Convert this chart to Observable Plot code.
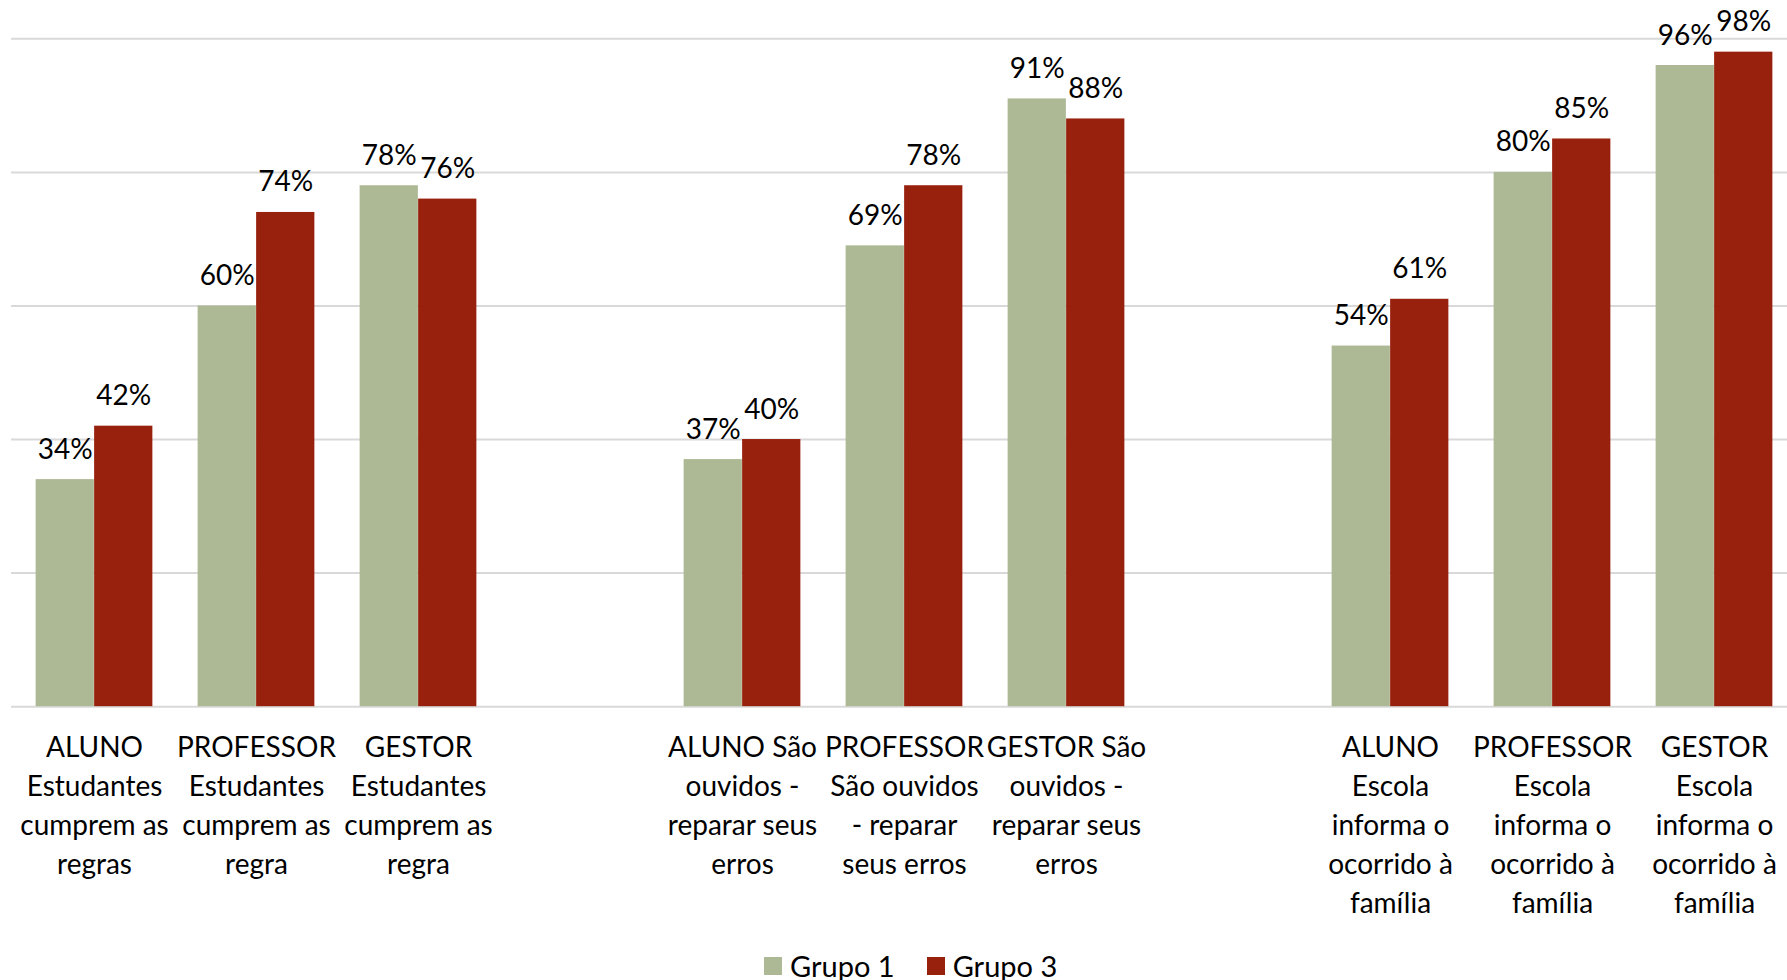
<!DOCTYPE html>
<html>
<head>
<meta charset="utf-8">
<script src="https://cdn.jsdelivr.net/npm/d3@7"></script>
<script src="https://cdn.jsdelivr.net/npm/@observablehq/plot@0.6"></script>
<style>
  html, body { margin: 0; padding: 0; background: #fff; overflow: hidden; }
  body { font-family: Lato, "Open Sans", sans-serif; width: 1787px; height: 980px; position: relative; }
  #chart svg { display: block; }
  .legend { position: absolute; top: 951px; left: 764px; display: flex; align-items: center; font-size: 29px; line-height: 30px; color: #000; }
  .legend .item { display: flex; align-items: center; margin-right: 32px; }
  .legend .sw { width: 18px; height: 18px; margin-right: 8px; display: inline-block; }
</style>
</head>
<body>
<div id="chart"></div>
<div class="legend" id="legend"></div>
<script>
// ---- data ----
const categories = [
  "ALUNO Estudantes cumprem as regras",
  "PROFESSOR Estudantes cumprem as regra",
  "GESTOR Estudantes cumprem as regra",
  "gap1", "gap2",
  "ALUNO São ouvidos - reparar seus erros",
  "PROFESSOR São ouvidos - reparar seus erros",
  "GESTOR São ouvidos - reparar seus erros",
  "gap3", "gap4",
  "ALUNO Escola informa o ocorrido à família",
  "PROFESSOR Escola informa o ocorrido à família",
  "GESTOR Escola informa o ocorrido à família"
];
const tickLabels = [
  "ALUNO\nEstudantes\ncumprem as\nregras",
  "PROFESSOR\nEstudantes\ncumprem as\nregra",
  "GESTOR\nEstudantes\ncumprem as\nregra",
  "", "",
  "ALUNO São\nouvidos -\nreparar seus\nerros",
  "PROFESSOR\nSão ouvidos\n- reparar\nseus erros",
  "GESTOR São\nouvidos -\nreparar seus\nerros",
  "", "",
  "ALUNO\nEscola\ninforma o\nocorrido à\nfamília",
  "PROFESSOR\nEscola\ninforma o\nocorrido à\nfamília",
  "GESTOR\nEscola\ninforma o\nocorrido à\nfamília"
];
const series = ["Grupo 1", "Grupo 3"];
const grupo1 = [34, 60, 78, null, null, 37, 69, 91, null, null, 54, 80, 96];
const grupo3 = [42, 74, 76, null, null, 40, 78, 88, null, null, 61, 85, 98];
const colors = ["#adb995", "#98210d"];
const yTicks = [0, 20, 40, 60, 80, 100];

// tables built from the arrays
const rows1 = [], rows3 = [];
categories.forEach((c, i) => {
  if (grupo1[i] != null) rows1.push({cat: c, grupo: series[0], value: grupo1[i]});
  if (grupo3[i] != null) rows3.push({cat: c, grupo: series[1], value: grupo3[i]});
});
const xDomain = categories.filter(c => c !== "gap2" && c !== "gap4");
const labelOf = new Map(categories.map((c, i) => [c, tickLabels[i]]));

const slot = 162.26;
const left0 = 11.8;
const barW = 58.5;
const half = slot / 2;

const chart = Plot.plot({
  width: 1787,
  height: 945,
  marginLeft: 11,
  marginRight: 0,
  marginTop: 38.3,
  marginBottom: 238.8,
  style: {fontFamily: "Lato, 'Open Sans', sans-serif", fontSize: "28px", color: "#000", background: "#fff"},
  x: {domain: xDomain, paddingInner: 0, paddingOuter: 0, range: [left0, left0 + xDomain.length * slot], axis: null},
  y: {domain: [0, 100], axis: null},
  marks: [
    Plot.ruleY(yTicks, {stroke: "#d9d9d9", strokeWidth: 2}),
    Plot.barY(rows1, {x: "cat", y: "value", fill: colors[0], insetLeft: half - barW, insetRight: half}),
    Plot.barY(rows3, {x: "cat", y: "value", fill: colors[1], insetLeft: half, insetRight: half - barW}),
    Plot.text(rows1, {x: "cat", y: "value", text: d => d.value + "%", dx: -barW / 2, dy: -21, lineAnchor: "bottom", textAnchor: "middle", fill: "#000", fontSize: 28}),
    Plot.text(rows3, {x: "cat", y: "value", text: d => d.value + "%", dx: barW / 2, dy: -21, lineAnchor: "bottom", textAnchor: "middle", fill: "#000", fontSize: 28}),
    Plot.axisX({anchor: "bottom", tickSize: 0, tickPadding: 23, lineHeight: 1.39, fontSize: 28, label: null, tickFormat: c => labelOf.get(c) || "", textOverflow: null, fill: "#000"})
  ]
});
document.getElementById("chart").appendChild(chart);

// legend
const lg = document.getElementById("legend");
series.forEach((s, i) => {
  const it = document.createElement("div");
  it.className = "item";
  const sw = document.createElement("span");
  sw.className = "sw";
  sw.style.background = colors[i];
  const t = document.createElement("span");
  t.textContent = s;
  it.appendChild(sw); it.appendChild(t);
  lg.appendChild(it);
});
</script>
</body>
</html>
